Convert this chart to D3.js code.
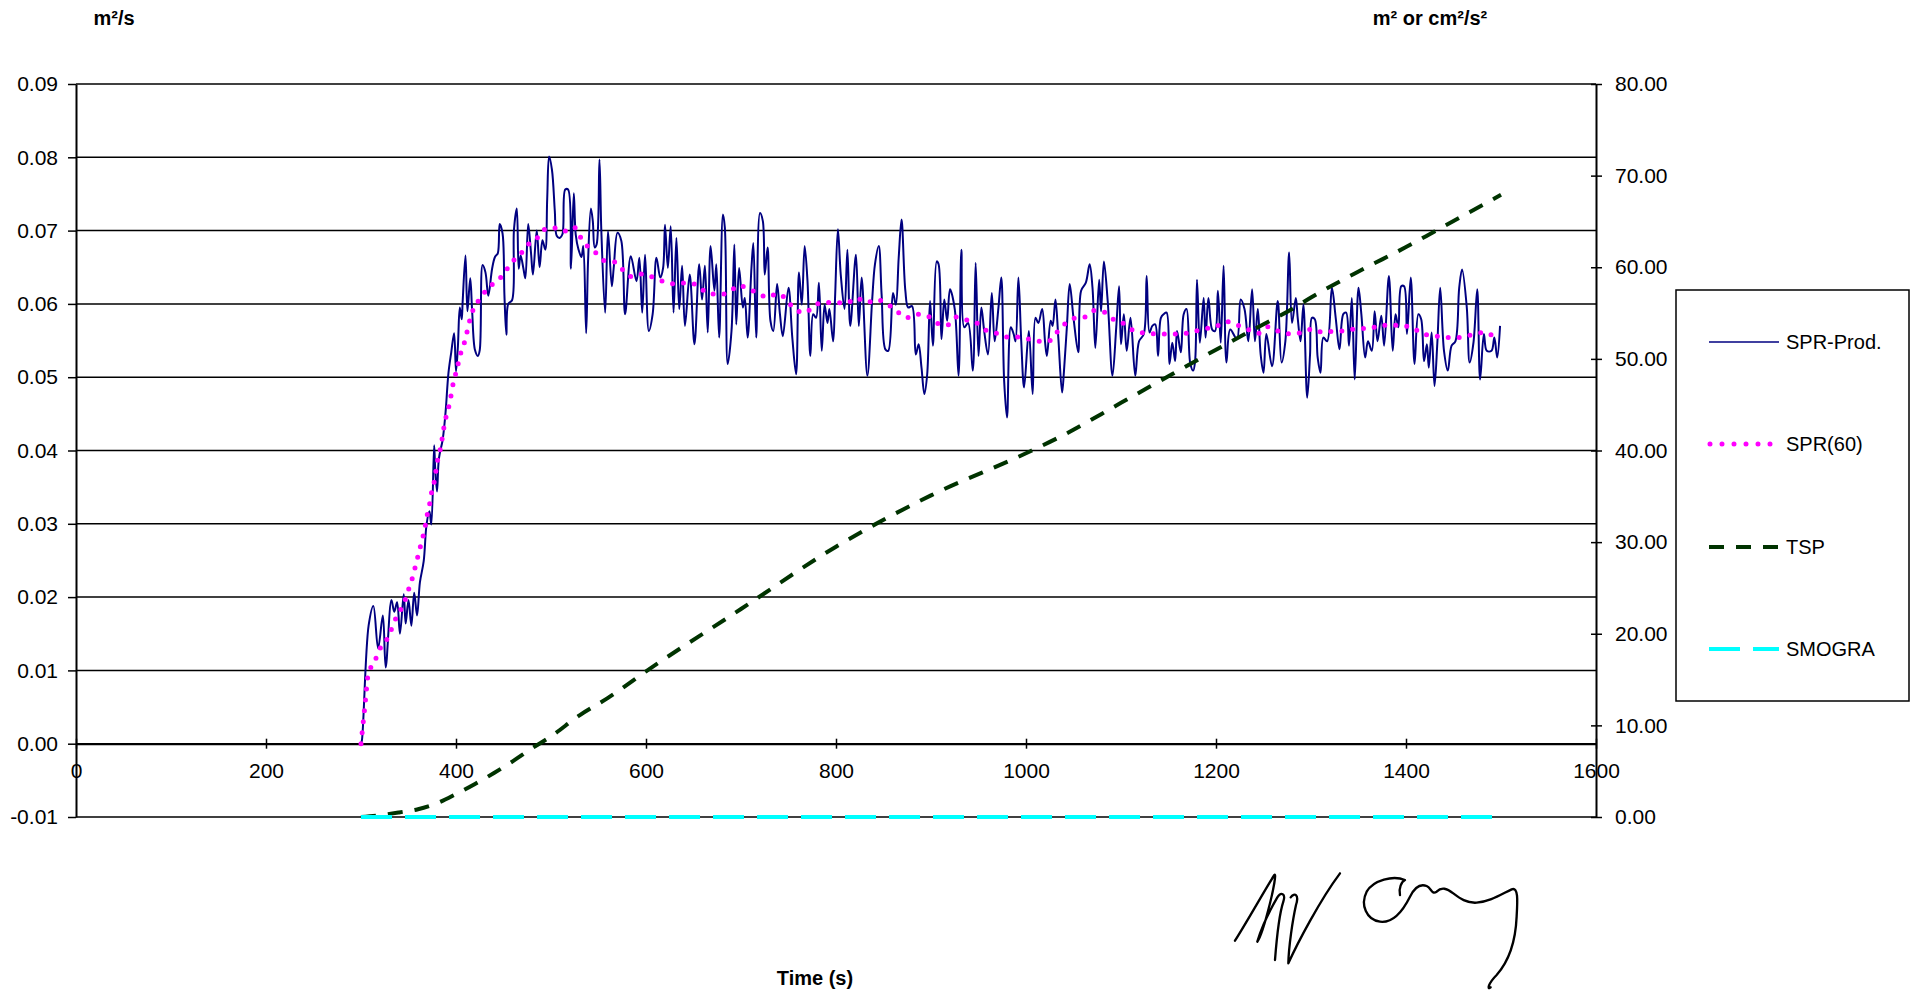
<!DOCTYPE html>
<html>
<head>
<meta charset="utf-8">
<script src="https://cdn.jsdelivr.net/npm/d3@7"></script>
<style>
  html, body { margin: 0; padding: 0; background: #fff; }
  svg { display: block; font-family: "Liberation Sans", Arial, sans-serif; }
</style>
</head>
<body>
<script>
// SPR-Prod. (m2/s, left axis)
const sprTime = [300,301,308,313,318,323,326,332,335,338,341,345,347,350,353,356,359,362,366,369,372,374,377,378,380,382,386,389,392,395,398,400,402,404,406,407,410,412,415,417,420,423,425,428,431,434,438,441,444,446,449,451,453,455,459,461,464,466,468,471,473,476,479,481,485,488,491,494,496,498,501,504,506,509,512,515,518,521,524,526,529,532,534,537,539,542,544,546,548,551,553,557,560,564,566,570,574,578,584,590,593,596,599,603,607,611,615,618,620,623,626,629,632,635,638,641,646,651,656,659,662,665,668,672,674,677,681,683,686,690,693,695,698,702,704,707,711,713,716,720,723,725,728,731,734,738,741,744,750,754,758,761,764,767,770,773,776,779,782,785,788,791,793,797,799,802,805,809,812,815,821,824,827,833,838,841,845,848,852,855,860,863,866,869,873,876,880,884,887,890,893,896,899,902,906,908,911,914,917,920,925,929,932,935,939,944,947,950,953,956,960,964,967,971,974,977,980,984,987,989,992,995,998,1003,1007,1010,1013,1017,1020,1022,1026,1028,1031,1034,1038,1040,1043,1046,1050,1055,1058,1063,1067,1070,1073,1077,1079,1082,1086,1091,1095,1098,1100,1103,1106,1110,1115,1119,1124,1127,1130,1133,1136,1139,1142,1145,1148,1151,1154,1157,1159,1163,1166,1169,1173,1176,1178,1180,1183,1187,1189,1192,1196,1199,1202,1205,1208,1211,1215,1222,1226,1230,1234,1238,1241,1244,1247,1250,1253,1259,1265,1269,1273,1277,1280,1284,1286,1289,1292,1296,1299,1301,1304,1307,1310,1313,1317,1322,1326,1330,1334,1337,1340,1343,1346,1350,1353,1357,1360,1364,1367,1370,1374,1377,1382,1386,1389,1392,1395,1398,1401,1405,1409,1413,1416,1419,1422,1424,1427,1430,1433,1436,1440,1444,1448,1452,1456,1459,1464,1467,1471,1475,1478,1482,1485,1490,1493,1496,1499];
const sprValue = [0,0.0005,0.0161,0.0188,0.013,0.0175,0.0104,0.0196,0.018,0.0193,0.015,0.0204,0.0164,0.0196,0.0161,0.0206,0.0175,0.022,0.0249,0.0299,0.0317,0.0299,0.0407,0.0378,0.0344,0.0389,0.0415,0.0452,0.0505,0.0534,0.056,0.0508,0.0542,0.0595,0.0579,0.0603,0.0666,0.059,0.0635,0.059,0.0537,0.0529,0.0537,0.0653,0.0643,0.0611,0.0648,0.0664,0.0669,0.0709,0.0696,0.0611,0.0558,0.06,0.0605,0.0701,0.073,0.0648,0.0666,0.0648,0.0635,0.0709,0.0669,0.064,0.07,0.065,0.0687,0.0674,0.0743,0.0801,0.0783,0.0727,0.0693,0.069,0.0695,0.0756,0.0756,0.0648,0.0751,0.0695,0.0674,0.0664,0.0679,0.056,0.0658,0.073,0.0713,0.0677,0.0681,0.0797,0.0699,0.0588,0.0699,0.0624,0.0649,0.0697,0.0686,0.0586,0.0665,0.0631,0.0663,0.0588,0.0667,0.0563,0.0586,0.0663,0.0636,0.0649,0.0708,0.0649,0.0706,0.0588,0.069,0.0593,0.0652,0.057,0.064,0.0545,0.0654,0.0606,0.0652,0.0561,0.0679,0.0618,0.0654,0.0554,0.0722,0.0704,0.0518,0.0563,0.0681,0.0572,0.0649,0.0595,0.0608,0.0554,0.0649,0.0683,0.0554,0.0724,0.0713,0.064,0.0677,0.0577,0.0563,0.0627,0.0586,0.0556,0.0622,0.0554,0.0504,0.0643,0.0599,0.0679,0.0631,0.0529,0.0586,0.0581,0.0629,0.0536,0.0599,0.0574,0.0593,0.0549,0.0608,0.0702,0.064,0.0593,0.0674,0.057,0.0667,0.057,0.0636,0.0502,0.0604,0.0654,0.0679,0.0613,0.0538,0.0536,0.0615,0.0599,0.0663,0.0715,0.0618,0.0595,0.0597,0.0531,0.0545,0.0513,0.0477,0.0504,0.0604,0.0543,0.0658,0.0654,0.0552,0.0606,0.0577,0.062,0.0593,0.0502,0.0674,0.0568,0.0574,0.0509,0.0656,0.0529,0.0595,0.0563,0.0531,0.0615,0.0549,0.0595,0.0636,0.0495,0.0445,0.0568,0.0559,0.0549,0.0636,0.0549,0.0486,0.0563,0.0477,0.0581,0.0574,0.0593,0.0549,0.0529,0.0577,0.057,0.0606,0.0554,0.0479,0.0509,0.0568,0.0627,0.0581,0.0534,0.0618,0.0629,0.0654,0.0622,0.054,0.0633,0.059,0.0658,0.0604,0.0502,0.0568,0.0624,0.0545,0.0586,0.0536,0.0581,0.0502,0.0549,0.0559,0.0638,0.0561,0.057,0.0572,0.0529,0.0581,0.0586,0.0588,0.0518,0.0547,0.0522,0.0563,0.0534,0.0586,0.0593,0.0518,0.0509,0.0522,0.0633,0.0547,0.0608,0.0554,0.0608,0.0565,0.0563,0.0618,0.0547,0.0652,0.052,0.0565,0.0552,0.0606,0.0593,0.0549,0.062,0.0549,0.0593,0.0531,0.0506,0.0559,0.0515,0.0604,0.052,0.0549,0.067,0.0574,0.0608,0.0581,0.0549,0.0599,0.0472,0.0531,0.0581,0.0579,0.0527,0.0506,0.0554,0.0549,0.0622,0.0581,0.0538,0.0586,0.0588,0.0543,0.0608,0.0497,0.0622,0.0586,0.0527,0.0549,0.0536,0.059,0.0549,0.0584,0.0543,0.0638,0.0536,0.0586,0.0568,0.0624,0.0624,0.0559,0.0636,0.0518,0.0586,0.0579,0.0522,0.0545,0.0513,0.0561,0.0488,0.0547,0.0622,0.0536,0.0509,0.0543,0.0549,0.0622,0.0647,0.0595,0.052,0.0547,0.062,0.0497,0.0559,0.0536,0.0536,0.0554,0.0527,0.057];

// SPR(60) moving average (left axis)
const avgTime = [300,304,308,314,318,326,331,336,342,347,351,355,358,361,364,367,369,372,374,377,379,381,384,386,388,391,394,396,399,402,405,409,412,415,419,426,433,443,451,458,467,474,484,491,502,513,524,531,538,546,556,568,576,585,597,608,620,632,643,655,664,676,687,697,709,718,728,738,748,756,768,776,788,799,811,821,833,842,854,864,874,885,897,906,917,926,938,948,958,969,979,991,1003,1014,1025,1033,1042,1053,1062,1072,1084,1093,1105,1115,1127,1139,1152,1164,1175,1188,1200,1211,1223,1234,1245,1255,1267,1279,1290,1302,1313,1325,1337,1349,1361,1373,1384,1396,1407,1417,1429,1440,1452,1464,1474,1485,1494];
const avgValue = [0,0.005,0.0098,0.011,0.0125,0.0139,0.0153,0.0169,0.0183,0.0198,0.0214,0.023,0.0246,0.0261,0.0277,0.0292,0.0308,0.0325,0.0341,0.0357,0.0373,0.0389,0.0405,0.0421,0.0437,0.0453,0.0469,0.0485,0.0501,0.0517,0.0533,0.0548,0.0564,0.058,0.0595,0.0608,0.0621,0.0631,0.0642,0.0656,0.0666,0.0679,0.0687,0.07,0.0704,0.0699,0.0705,0.0691,0.0679,0.0671,0.0659,0.0657,0.0646,0.0637,0.0641,0.0636,0.063,0.0627,0.0629,0.0625,0.0615,0.0613,0.0615,0.0625,0.062,0.0614,0.0609,0.0614,0.0606,0.0593,0.0588,0.0597,0.0602,0.0602,0.0601,0.0608,0.0602,0.0606,0.06,0.059,0.0581,0.0586,0.0583,0.0574,0.0571,0.0582,0.0578,0.0574,0.0564,0.056,0.0555,0.0555,0.0552,0.0549,0.055,0.0562,0.0574,0.0581,0.0582,0.0591,0.0588,0.0578,0.0572,0.0562,0.056,0.0559,0.0559,0.0559,0.0562,0.0566,0.0569,0.0576,0.0571,0.0565,0.056,0.0569,0.0562,0.0559,0.0561,0.0566,0.0561,0.0563,0.0563,0.0567,0.0566,0.0571,0.0571,0.057,0.0568,0.0559,0.0557,0.0554,0.0554,0.0556,0.056,0.0561,0.0551];

// TSP (m2, right axis)
const tspTime = [300,320,340,360,380,400,420,440,460,480,500,530,560,600,700,800,900,1000,1036,1100,1155,1200,1232,1281,1300,1353,1400,1430,1500];
const tspValue = [0,0.2,0.5,0.85,1.5,2.5,3.6,4.8,6.1,7.5,8.8,11.1,13.0,15.9,22.7,29.5,35.1,39.7,41.5,45.2,48.4,51.0,52.8,55.5,56.7,59.7,62.2,63.9,67.9];

// SMOGRA (cm2/s2, right axis)
const smograTime = [300,600,900,1200,1500];
const smograValue = [0,0,0,0,0];

const xTicks = [0,200,400,600,800,1000,1200,1400,1600];
const leftTicks = [-0.01,0,0.01,0.02,0.03,0.04,0.05,0.06,0.07,0.08,0.09];
const rightTicks = [0,10,20,30,40,50,60,70,80];

const legendNames = ['SPR-Prod.', 'SPR(60)', 'TSP', 'SMOGRA'];

const width = 1910;
const height = 993;
const plotLeft = 76, plotRight = 1596, plotTop = 84, plotBottom = 817;

const styles = {
    'SPR-Prod.': {color: '#000080', width: 2, dash: null, cap: 'butt'},
    'SPR(60)': {color: '#ff00ff', width: 5, dash: '0 11', cap: 'round'},
    'TSP': {color: '#003300', width: 4, dash: '15 12', cap: 'butt'},
    'SMOGRA': {color: '#00ffff', width: 4, dash: '31 13', cap: 'butt'}
};

const svg = d3.select('body')
    .append('svg')
    .attr('width', width)
    .attr('height', height);

const x = d3.scaleLinear().domain([0, 1600]).range([plotLeft, plotRight]);
const yLeft = d3.scaleLinear().domain([-0.01, 0.09]).range([plotBottom, plotTop]);
const yRight = d3.scaleLinear().domain([0, 80]).range([plotBottom, plotTop]);

// horizontal gridlines (left axis)
svg.append('g')
    .selectAll('line')
    .data(leftTicks)
    .enter()
    .append('line')
    .attr('x1', plotLeft)
    .attr('x2', plotRight)
    .attr('y1', d => yLeft(d))
    .attr('y2', d => yLeft(d))
    .attr('stroke', '#000')
    .attr('stroke-width', 1.5);

// left axis
const leftAxis = svg.append('g')
    .attr('transform', `translate(${plotLeft},0)`)
    .call(d3.axisLeft(yLeft).tickValues(leftTicks).tickFormat(d => d.toFixed(2)).tickSize(8).tickPadding(10).tickSizeOuter(0));

// right axis
const rightAxis = svg.append('g')
    .attr('transform', `translate(${plotRight},0)`)
    .call(d3.axisRight(yRight).tickValues(rightTicks).tickFormat(d => d.toFixed(2)).tickSize(6).tickPadding(13).tickSizeOuter(0));
rightAxis.selectAll('.tick line').attr('x1', -5);

// x axis through zero of left axis
const xAxis = svg.append('g')
    .attr('transform', `translate(0,${yLeft(0)})`)
    .call(d3.axisBottom(x).tickValues(xTicks).tickFormat(d3.format('d')).tickSize(5).tickPadding(14).tickSizeOuter(0));
xAxis.selectAll('.tick line').attr('y1', -5);

[leftAxis, rightAxis, xAxis].forEach(a => {
    a.select('.domain').attr('stroke', '#000').attr('stroke-width', 2);
    a.selectAll('.tick line').attr('stroke', '#000').attr('stroke-width', 1.5);
    a.selectAll('text')
        .attr('fill', '#000')
        .style('font-size', '21px')
        .style('font-family', '"Liberation Sans", Arial, sans-serif');
});

function drawSeries(times, values, yScale, name, curve){
    const s = styles[name];
    const pts = times.map((t, i) => [t, values[i]]);
    const line = d3.line()
        .x(d => x(d[0]))
        .y(d => yScale(d[1]))
        .curve(curve);
    svg.append('path')
        .datum(pts)
        .attr('d', line)
        .attr('fill', 'none')
        .attr('stroke', s.color)
        .attr('stroke-width', s.width)
        .attr('stroke-linecap', s.cap)
        .attr('stroke-linejoin', 'round')
        .attr('stroke-dasharray', s.dash);
}

drawSeries(sprTime, sprValue, yLeft, 'SPR-Prod.', d3.curveCatmullRom.alpha(0.5));
drawSeries(avgTime, avgValue, yLeft, 'SPR(60)', d3.curveMonotoneX);
drawSeries(tspTime, tspValue, yRight, 'TSP', d3.curveMonotoneX);
drawSeries(smograTime, smograValue, yRight, 'SMOGRA', d3.curveLinear);

// axis titles
svg.append('text')
    .attr('x', 114)
    .attr('y', 25)
    .attr('text-anchor', 'middle')
    .style('font-size', '20px')
    .style('font-weight', 'bold')
    .text('m²/s');

svg.append('text')
    .attr('x', 1430)
    .attr('y', 25)
    .attr('text-anchor', 'middle')
    .style('font-size', '20px')
    .style('font-weight', 'bold')
    .text('m² or cm²/s²');

svg.append('text')
    .attr('x', 815)
    .attr('y', 985)
    .attr('text-anchor', 'middle')
    .style('font-size', '20px')
    .style('font-weight', 'bold')
    .text('Time (s)');

// legend
const legend = svg.append('g');
legend.append('rect')
    .attr('x', 1676)
    .attr('y', 290)
    .attr('width', 233)
    .attr('height', 411)
    .attr('fill', '#fff')
    .attr('stroke', '#000')
    .attr('stroke-width', 1.5);

const legendRows = [342, 444, 547, 649];
legendNames.forEach((name, i) => {
    const s = styles[name];
    legend.append('line')
        .attr('x1', name === 'SPR(60)' ? 1710 : 1709)
        .attr('x2', 1779)
        .attr('y1', legendRows[i])
        .attr('y2', legendRows[i])
        .attr('stroke', s.color)
        .attr('stroke-width', name === 'SPR-Prod.' ? 1.5 : s.width)
        .attr('stroke-linecap', s.cap)
        .attr('stroke-dasharray', name === 'SPR(60)' ? '0 12' : s.dash);
    legend.append('text')
        .attr('x', 1786)
        .attr('y', legendRows[i])
        .attr('dy', '0.35em')
        .style('font-size', '20px')
        .text(name);
});

// signature
const sig = svg.append('g')
    .attr('transform', 'translate(1220,860) scale(0.3333)')
    .attr('fill', 'none')
    .attr('stroke', '#000')
    .attr('stroke-width', 7)
    .attr('stroke-linecap', 'round')
    .attr('stroke-linejoin', 'round');
sig.append('path').attr('d', 'M45,242 C90,170 140,80 163,45 C170,38 160,90 150,130 C135,190 120,235 112,245 C125,200 150,150 172,112 C183,95 198,100 190,125 C180,155 172,210 165,300');
sig.append('path').attr('d', 'M212,112 C224,96 238,104 228,135 C218,180 206,260 205,310 C232,250 300,120 360,40');
sig.append('path').attr('d', 'M540,105 C535,85 545,65 555,60 C520,45 460,60 440,95 C420,135 440,180 480,185 C520,190 550,150 570,110 C585,80 600,70 620,78 C635,85 635,105 650,95 C665,80 680,85 700,100 C720,115 740,130 770,128 C810,125 840,105 875,88 C895,80 893,120 890,170 C887,240 870,300 830,345 C805,370 800,392 812,382');
</script>
</body>
</html>
